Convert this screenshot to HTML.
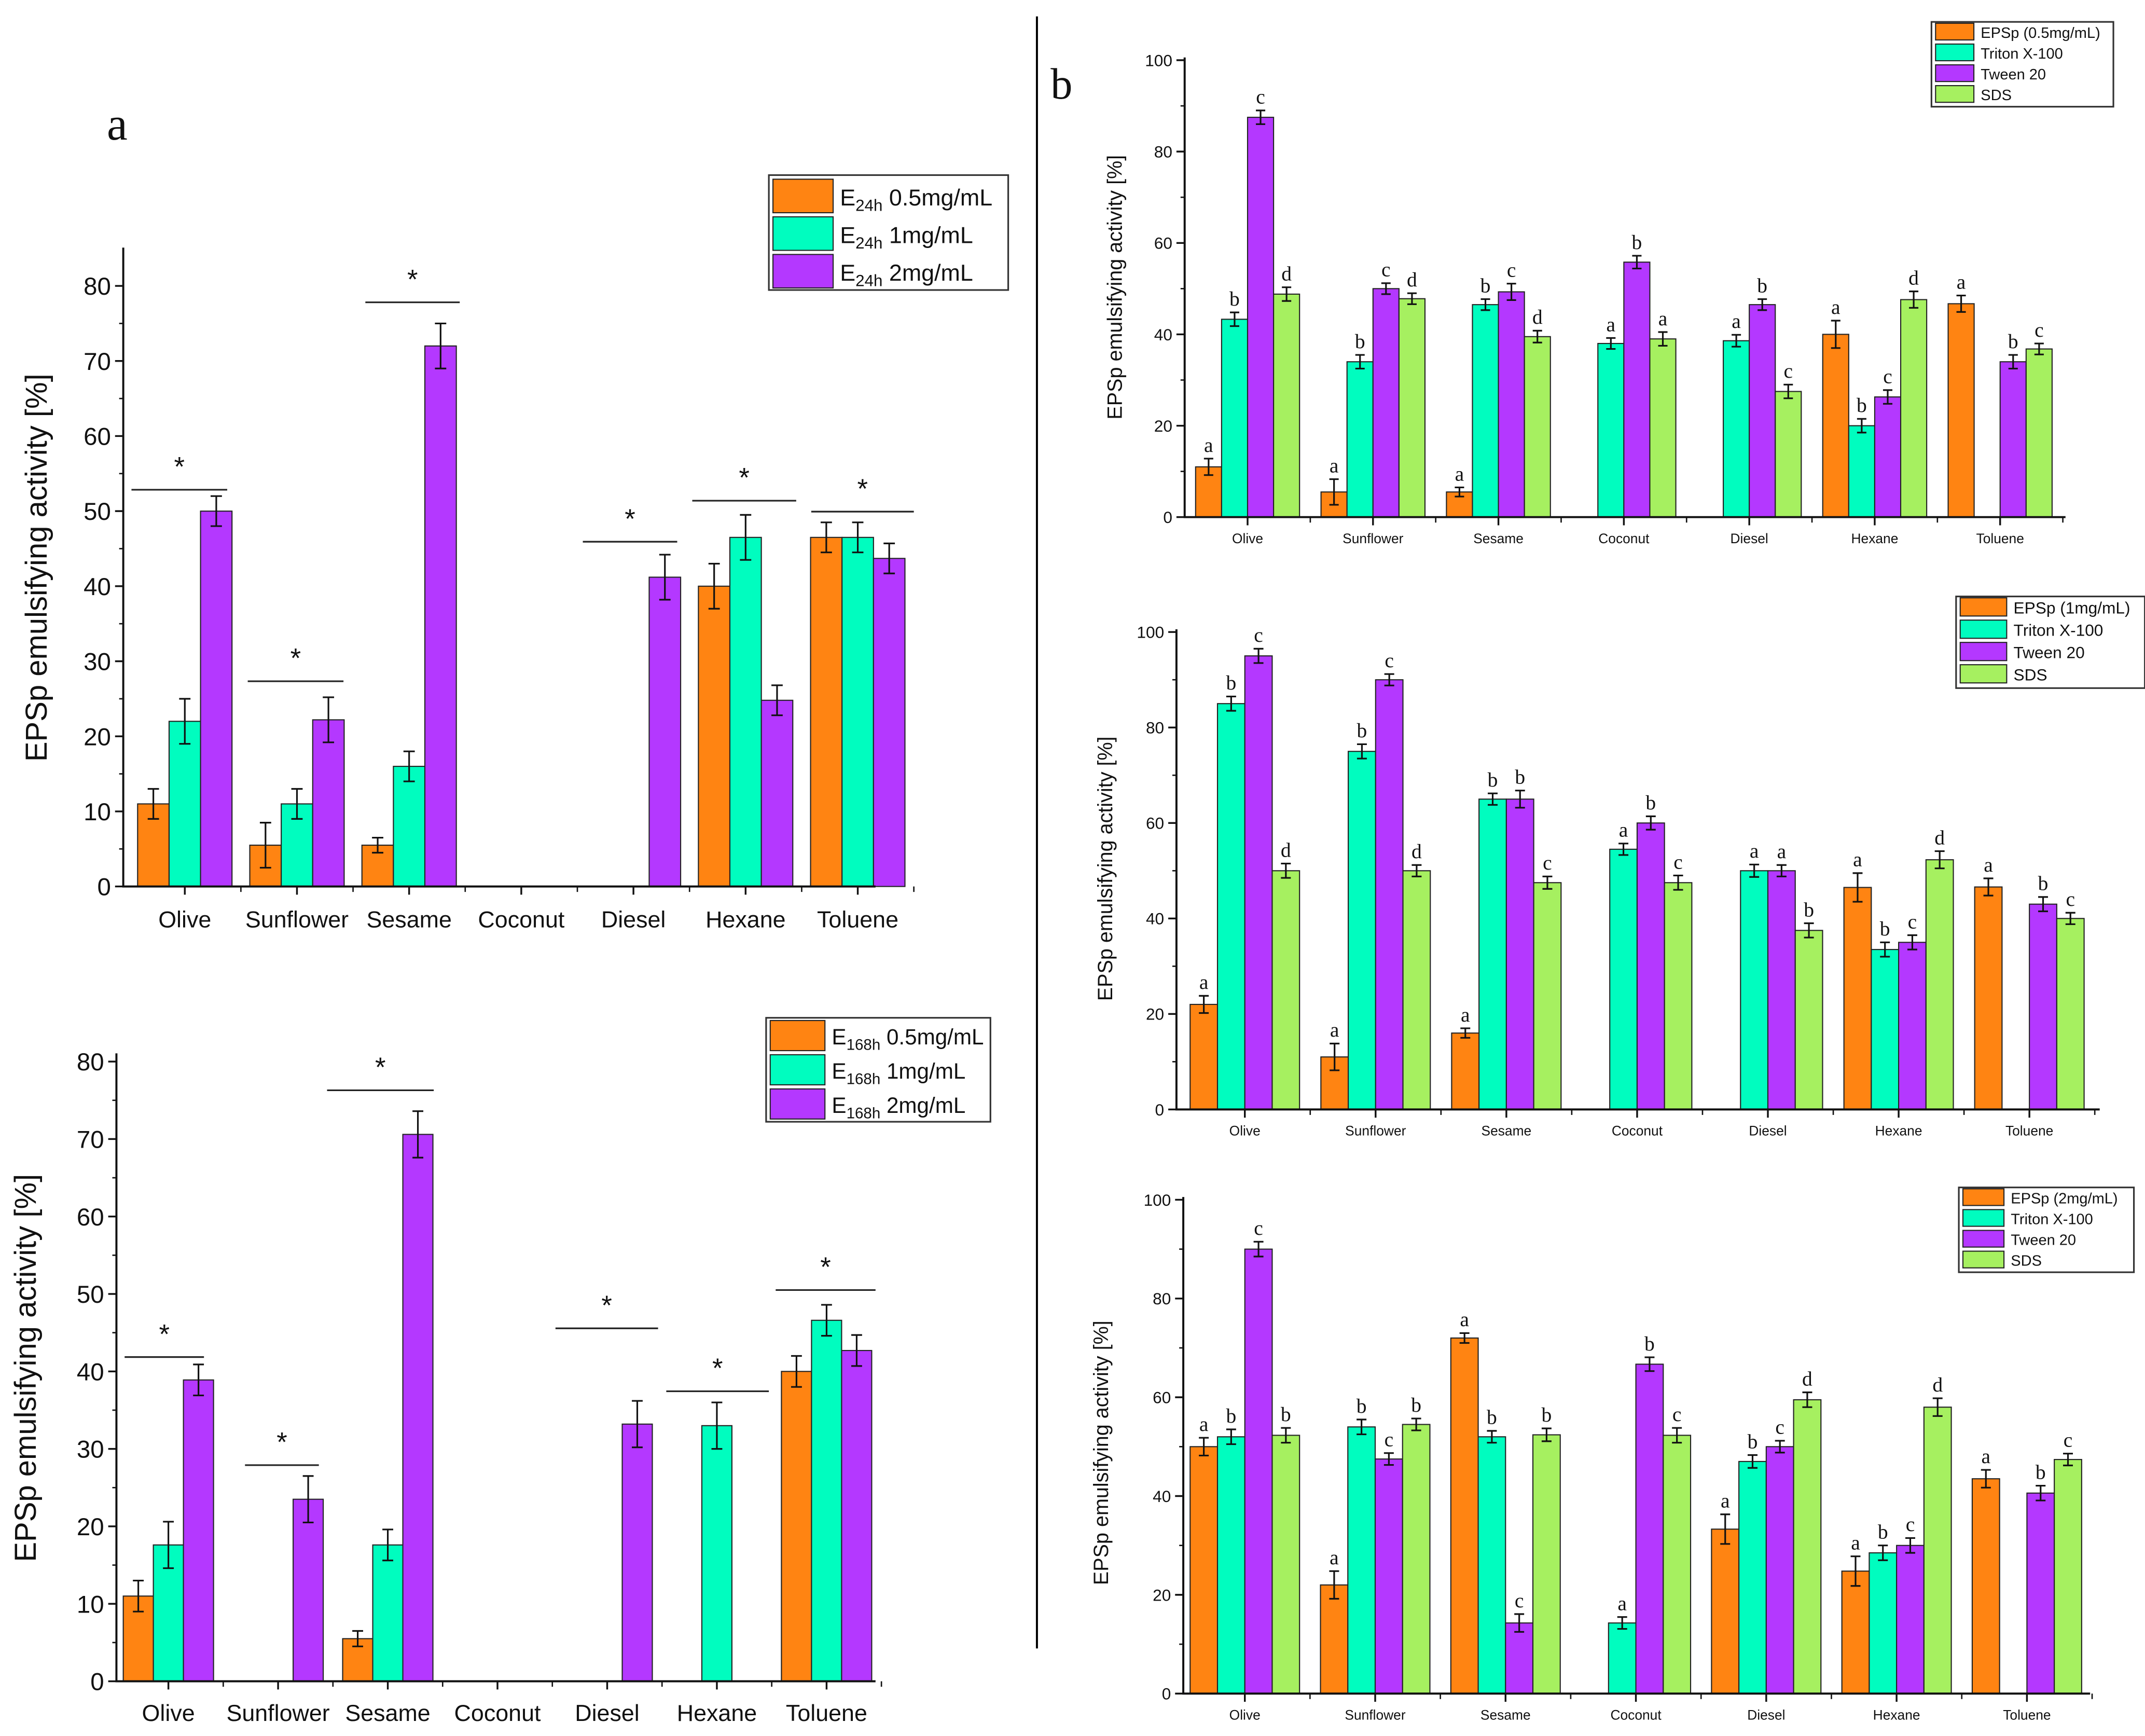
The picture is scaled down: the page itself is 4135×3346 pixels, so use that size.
<!DOCTYPE html>
<html><head><meta charset="utf-8"><style>
html,body{margin:0;padding:0;background:#fff}
svg{display:block}
text{font-family:"Liberation Sans",sans-serif;fill:#111}
</style></head><body>
<svg id="fig" width="4135" height="3346" viewBox="0 0 1568 1269" xmlns="http://www.w3.org/2000/svg">
<rect x="0" y="0" width="1568" height="1269" fill="#fff"/>
<line x1="758" y1="12" x2="758" y2="1205" stroke="#000" stroke-width="1.5"/>
<text x="78" y="102" font-size="34" style="font-family:'Liberation Serif',serif">a</text>
<text x="768" y="72" font-size="32" style="font-family:'Liberation Serif',serif">b</text>
</svg>
<script>
const categories = ["Olive","Sunflower","Sesame","Coconut","Diesel","Hexane","Toluene"];
// Panel a top (E24h)
const a1Low = [11,5.5,5.5,0,0,40,46.5];
const a1Mid = [22,11,16,0,0,46.5,46.5];
const a1High = [50,22.2,72,0,41.2,24.8,43.7];
const a1LowErr = [2,3,1,0,0,3,2];
const a1MidErr = [3,2,2,0,0,3,2];
const a1HighErr = [2,3,3,0,3,2,2];
const a1Ticks = [0,10,20,30,40,50,60,70,80];
// Panel a bottom (E168h)
const a2Low = [11,0,5.5,0,0,0,40];
const a2Mid = [17.6,0,17.6,0,0,33,46.6];
const a2High = [38.9,23.5,70.6,0,33.2,0,42.7];
const a2LowErr = [2,0,1,0,0,0,2];
const a2MidErr = [3,0,2,0,0,3,2];
const a2HighErr = [2,3,3,0,3,0,2];
// Panel b1 (0.5 mg/mL)
const b1Epsp = [11,5.5,5.5,0,0,40,46.7];
const b1Triton = [43.3,34,46.5,38,38.6,20,0];
const b1Tween = [87.5,50,49.3,55.8,46.5,26.3,34];
const b1Sds = [48.8,47.8,39.5,39,27.5,47.6,36.8];
const b1Letters = [["a","a","a","","","a","a"],["b","b","b","a","a","b",""],["c","c","c","b","b","c","b"],["d","d","d","a","c","d","c"]];
// Panel b2 (1 mg/mL)
const b2Epsp = [22,11,16,0,0,46.5,46.6];
const b2Triton = [85,75,65,54.5,50,33.5,0];
const b2Tween = [95,90,65,60,50,35,43];
const b2Sds = [50,50,47.5,47.5,37.5,52.3,40];
const b2Letters = [["a","a","a","","","a","a"],["b","b","b","a","a","b",""],["c","c","b","b","a","c","b"],["d","d","c","c","b","d","c"]];
// Panel b3 (2 mg/mL)
const b3Epsp = [50,22,72,0,33.3,24.8,43.5];
const b3Triton = [52,54,52,14.3,47,28.5,0];
const b3Tween = [90,47.5,14.3,66.7,50,30,40.6];
const b3Sds = [52.3,54.5,52.4,52.3,59.5,58,47.4];
const b3Letters = [["a","a","a","","a","a","a"],["b","b","b","a","b","b",""],["c","c","c","b","c","c","b"],["b","b","b","c","d","d","c"]];
const bErr = [[1.8,2.8,1,1.5,3,3,1.8],[1.5,1.5,1.2,1.2,1.3,1.5,0],[1.5,1.2,1.8,1.4,1.2,1.5,1.5],[1.5,1.2,1.3,1.5,1.5,1.8,1.2]];
const bTicks = [0,20,40,60,80,100];

const NS="http://www.w3.org/2000/svg";
const svg=document.getElementById("fig");
function mk(tag,attrs,parent){const e=document.createElementNS(NS,tag);for(const k in attrs)e.setAttribute(k,attrs[k]);(parent||svg).appendChild(e);return e;}
const COLORS=["#ff8412","#00fdbf","#b438ff","#a6f060"];

function drawPanel(p){
  const g=mk("g",{});
  
  
  const yS=v=>p.y0-(v/p.yMax)*(p.y0-p.yTop);
  const xS=i=>p.firstC+i*p.step;
  const nS=p.series.length;
  p.series.forEach((ser,si)=>{
    ser.forEach((v,ci)=>{
      if(v<=0)return;
      const cx=xS(ci);
      const bx=cx-nS*p.bw/2+si*p.bw;
      const r=mk("rect",{x:bx,y:yS(v),width:p.bw,height:p.y0-yS(v),fill:COLORS[si],stroke:"#222","stroke-width":0.8},g);
      
      
      const e=p.errs[si][ci];
      if(e>0){
        const mx=bx+p.bw/2,hw=p.bw*0.18;
        const eb=mk("path",{d:`M${mx},${yS(v+e)}V${yS(v-e)}M${mx-hw},${yS(v+e)}H${mx+hw}M${mx-hw},${yS(v-e)}H${mx+hw}`,stroke:"#111","stroke-width":1.2,fill:"none"},g);
        
        
      }
      if(p.letters){
        const L=p.letters[si][ci];
        if(L){
          const t=mk("text",{x:bx+p.bw/2,y:yS(v+e)-5,"text-anchor":"middle","font-size":p.letterSize,style:"font-family:'Liberation Serif',serif"},g);
          t.textContent=L;
          
          
        }
      }
    });
  });
  const ax=mk("path",{d:`M${p.x0},${p.axTop}V${p.y0}H${p.x1}`,stroke:"#111","stroke-width":1.5,fill:"none"},g);
  
  
  p.ticks.forEach(t=>{
    const y=yS(t);
    mk("line",{x1:p.x0-6,x2:p.x0,y1:y,y2:y,stroke:"#111","stroke-width":1.3},g);
    const tl=mk("text",{x:p.x0-9,y:y+p.tickSize*0.36,"text-anchor":"end","font-size":p.tickSize},g);
    tl.textContent=t;
    
    
  });
  for(let i=0;i<p.ticks.length-1;i++){const y=yS((p.ticks[i]+p.ticks[i+1])/2);mk("line",{x1:p.x0-3,x2:p.x0,y1:y,y2:y,stroke:"#111","stroke-width":1},g);}
  categories.forEach((c,ci)=>{
    const x=xS(ci);
    mk("line",{x1:x,x2:x,y1:p.y0,y2:p.y0+6,stroke:"#111","stroke-width":1.3},g);
    mk("line",{x1:x+p.step/2,x2:x+p.step/2,y1:p.y0,y2:p.y0+4,stroke:"#111","stroke-width":1},g);
    const cl=mk("text",{x:x,y:p.y0+p.catOff,"text-anchor":"middle","font-size":p.catSize},g);
    cl.textContent=c;
    
    
  });
  const yt=mk("text",{x:0,y:0,"text-anchor":"middle","font-size":p.titleSize,transform:`translate(${p.titleX},${p.titleY}) rotate(-90)`},g);
  yt.textContent=p.title;
  
  
  if(p.stars){p.stars.forEach(s=>{
    mk("line",{x1:s[0],x2:s[1],y1:s[2],y2:s[2],stroke:"#222","stroke-width":1.2},g);
    const st=mk("text",{x:(s[0]+s[1])/2,y:s[2]-10,"text-anchor":"middle","font-size":20},g);
    st.textContent="*";
    
    
  });}
  const L=p.legend;
  const lg=mk("g",{},g);
  
  
  mk("rect",{x:L.x,y:L.y,width:L.w,height:L.h,fill:"#fff",stroke:"#333","stroke-width":1.2},lg);
  L.labels.forEach((lab,i)=>{
    const ey=L.y+L.pad+i*L.rowH;
    mk("rect",{x:L.x+3,y:ey,width:L.sw,height:L.rowH-3,fill:COLORS[i],stroke:"#222","stroke-width":0.8},lg);
    const t=mk("text",{x:L.x+L.sw+8,y:ey+L.rowH*0.7,"font-size":L.fs},lg);
    t.innerHTML=lab;
    
    
  });
}
function sub(h,s){return `E<tspan font-size="${s*0.7}" dy="4">${h}</tspan><tspan dy="-4"> </tspan>`;}
drawPanel({name:"chart-a-24h",series:[a1Low,a1Mid,a1High],errs:[a1LowErr,a1MidErr,a1HighErr],keys:["0.5","1","2"],
  x0:90,x1:640,y0:648,yTop:209,yMax:80,axTop:181,firstC:135,step:82,bw:23,ticks:a1Ticks,tickSize:18,catSize:17,catOff:30,
  title:"EPSp emulsifying activity [%]",titleX:34,titleY:415,titleSize:22,
  stars:[[96,166,358],[181,251,498],[267,336,221],[426,495,396],[506,582,366],[593,668,374]],
  legend:{x:562,y:128,w:175,h:84,pad:3,rowH:27.5,sw:44,fs:17,labels:[sub("24h",17)+"0.5mg/mL",sub("24h",17)+"1mg/mL",sub("24h",17)+"2mg/mL"]}});
drawPanel({name:"chart-a-168h",series:[a2Low,a2Mid,a2High],errs:[a2LowErr,a2MidErr,a2HighErr],keys:["0.5","1","2"],
  x0:85,x1:640,y0:1229,yTop:776,yMax:80,axTop:770,firstC:123,step:80.2,bw:22,ticks:a1Ticks,tickSize:18,catSize:17,catOff:29,
  title:"EPSp emulsifying activity  [%]",titleX:26,titleY:1000,titleSize:22,
  stars:[[91,149,992],[179,233,1071],[239,317,797],[406,481,971],[487,562,1017],[567,640,943]],
  legend:{x:560,y:744,w:164,h:76,pad:2,rowH:25,sw:40,fs:16,labels:[sub("168h",16)+"0.5mg/mL",sub("168h",16)+"1mg/mL",sub("168h",16)+"2mg/mL"]}});
const bLeg=n=>["EPSp ("+n+")","Triton X-100","Tween 20","SDS"];
drawPanel({name:"chart-b-0.5mg",series:[b1Epsp,b1Triton,b1Tween,b1Sds],errs:bErr,keys:["epsp","triton","tween","sds"],letters:b1Letters,letterSize:15,
  x0:866,x1:1510,y0:378,yTop:44,yMax:100,axTop:42,firstC:912,step:91.7,bw:19,ticks:bTicks,tickSize:12,catSize:10,catOff:19,
  title:"EPSp  emulsifying activity [%]",titleX:820,titleY:210,titleSize:15,
  legend:{x:1412,y:16,w:133,h:62,pad:1,rowH:15.2,sw:28,fs:11,labels:bLeg("0.5mg/mL")}});
drawPanel({name:"chart-b-1mg",series:[b2Epsp,b2Triton,b2Tween,b2Sds],errs:bErr,keys:["epsp","triton","tween","sds"],letters:b2Letters,letterSize:15,
  x0:860,x1:1535,y0:811,yTop:462,yMax:100,axTop:460,firstC:910,step:95.6,bw:20,ticks:bTicks,tickSize:12,catSize:10,catOff:19,
  title:"EPSp emulsifying activity [%]",titleX:813,titleY:635,titleSize:15,
  legend:{x:1430,y:436,w:138,h:67,pad:1,rowH:16.3,sw:34,fs:12,labels:bLeg("1mg/mL")}});
drawPanel({name:"chart-b-2mg",series:[b3Epsp,b3Triton,b3Tween,b3Sds],errs:bErr,keys:["epsp","triton","tween","sds"],letters:b3Letters,letterSize:15,
  x0:865,x1:1528,y0:1238,yTop:877,yMax:100,axTop:875,firstC:910,step:95.3,bw:20,ticks:bTicks,tickSize:12,catSize:10,catOff:19,
  title:"EPSp emulsifying activity [%]",titleX:810,titleY:1062,titleSize:15,
  legend:{x:1432,y:868,w:128,h:62,pad:1,rowH:15.2,sw:30,fs:11,labels:bLeg("2mg/mL")}});
</script>
</body></html>
